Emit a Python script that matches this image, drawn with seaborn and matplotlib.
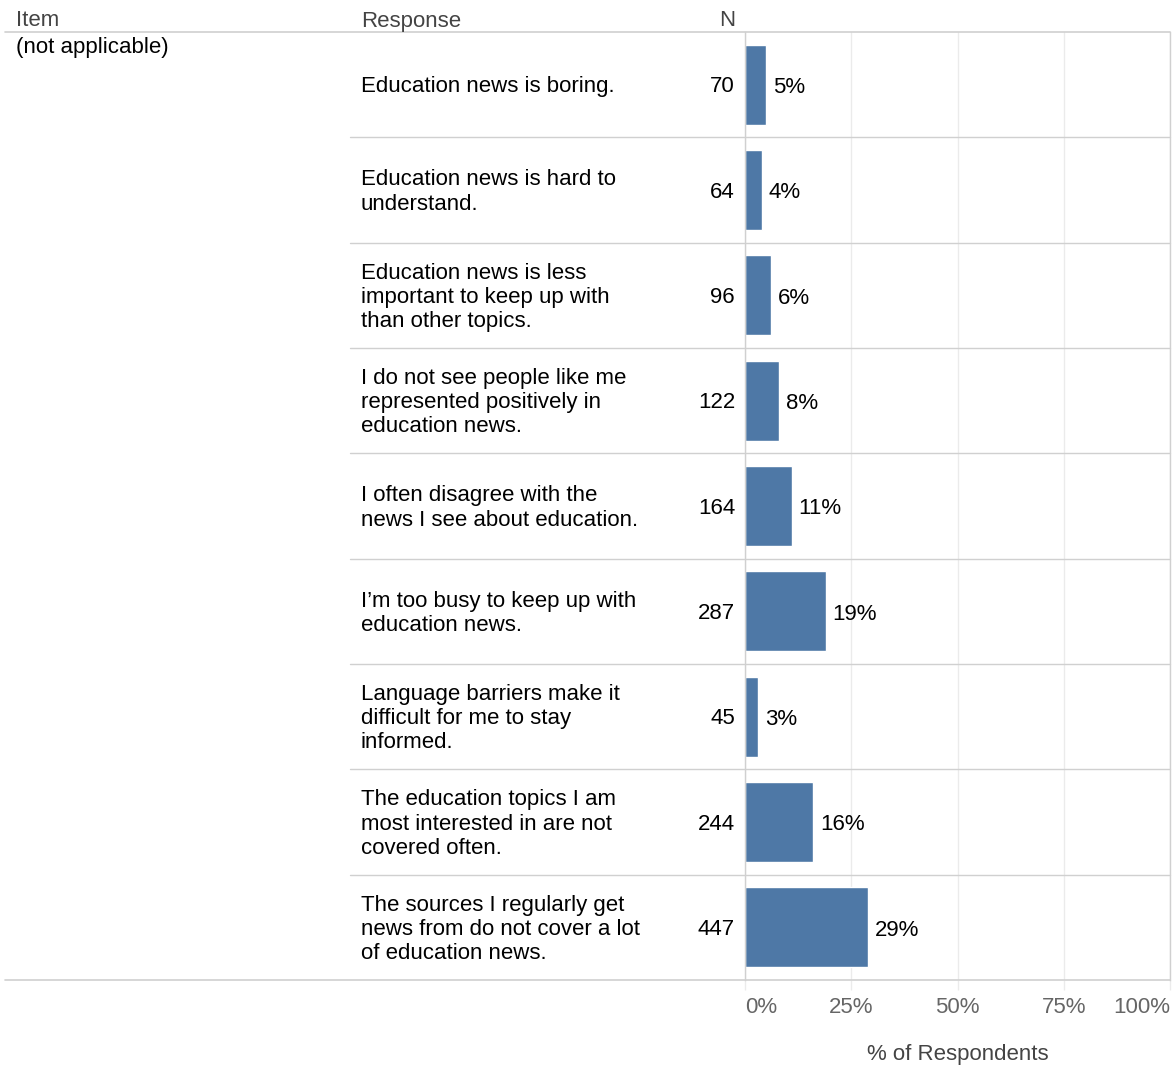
import matplotlib
matplotlib.use("Agg")
import matplotlib.pyplot as plt
import matplotlib.transforms as mtransforms
import pandas as pd
import seaborn as sns

# Survey responses: reasons for not keeping up with education news
responses = [
    "Education news is boring.",
    "Education news is hard to\nunderstand.",
    "Education news is less\nimportant to keep up with\nthan other topics.",
    "I do not see people like me\nrepresented positively in\neducation news.",
    "I often disagree with the\nnews I see about education.",
    "I\u2019m too busy to keep up with\neducation news.",
    "Language barriers make it\ndifficult for me to stay\ninformed.",
    "The education topics I am\nmost interested in are not\ncovered often.",
    "The sources I regularly get\nnews from do not cover a lot\nof education news.",
]
counts = [70, 64, 96, 122, 164, 287, 45, 244, 447]
percents = [5, 4, 6, 8, 11, 19, 3, 16, 29]
item_label = "(not applicable)"
tick_values = [0, 25, 50, 75, 100]
tick_labels = ["0%", "25%", "50%", "75%", "100%"]

df = pd.DataFrame({"Response": responses, "N": counts, "Percent": percents})

sns.set_theme(style="white")
plt.rcParams["font.family"] = ["Liberation Sans", "DejaVu Sans"]

W, H = 1173, 1066
fig = plt.figure(figsize=(W / 100, H / 100), dpi=100)

def fx(px):
    return px / W

def fy(py):
    return 1 - py / H

ax_left, ax_right = 745, 1170
ax_top, ax_bottom = 32, 980
ax = fig.add_axes([fx(ax_left), fy(ax_bottom), fx(ax_right - ax_left), (ax_bottom - ax_top) / H])

bar_color = "#4e78a6"
line_color = "#d0d0d0"
grid_color = "#ebebeb"
fs = 16

sns.barplot(data=df, x="Percent", y="Response", orient="h", color=bar_color,
            width=0.76, saturation=1, ax=ax)
ax.set_xlim(0, 100)
ax.set_ylim(len(responses) - 0.5, -0.5)

# Grid and frame
ax.set_xticks(tick_values)
ax.xaxis.grid(True, color=grid_color, linewidth=1.0)
ax.set_axisbelow(True)
for side in ["top", "bottom"]:
    ax.spines[side].set_visible(False)
for side in ["left", "right"]:
    ax.spines[side].set_visible(True)
    ax.spines[side].set_color(line_color)
    ax.spines[side].set_linewidth(1.0)
ax.tick_params(axis="x", bottom=True, length=7, width=1.0, color=grid_color,
               pad=5, labelsize=fs, labelcolor="#666666")
ax.tick_params(axis="y", left=False, labelleft=False)
ax.set_xticklabels(tick_labels)
tls = ax.get_xticklabels()
tls[0].set_ha("left")
tls[-1].set_ha("right")
ax.set_ylabel("")
ax.set_xlabel("% of Respondents", fontsize=fs, color="#444444", labelpad=19)

# Value labels at the end of each bar
for i, p in enumerate(percents):
    ax.annotate(f"{p}%", xy=(p, i), xytext=(5, -2), textcoords="offset points",
                ha="left", va="center", fontsize=fs, color="black")

# Table columns to the left of the bars
blend = mtransforms.blended_transform_factory(fig.transFigure, ax.transData)
nudge = mtransforms.ScaledTranslation(0, -1.5 / 72, fig.dpi_scale_trans)
for i, (resp, n) in enumerate(zip(responses, counts)):
    ax.text(fx(361), i, resp, transform=blend + nudge, ha="left", va="center",
            fontsize=fs, color="black", linespacing=1.2)
    ax.text(fx(735), i, str(n), transform=blend + nudge, ha="right", va="center",
            fontsize=fs, color="black")

# Row separators
for k in range(1, len(responses)):
    ax.plot([fx(350), fx(ax_right)], [k - 0.5, k - 0.5], transform=blend,
            color=line_color, linewidth=1.0, clip_on=False)
# Header and footer rules
for yv in [-0.5, len(responses) - 0.5]:
    ax.plot([fx(5), fx(ax_right)], [yv, yv], transform=blend,
            color=line_color, linewidth=1.2, clip_on=False)

# Column headers
fig.text(fx(16), fy(21), "Item", ha="left", va="center", fontsize=fs, color="#444444")
fig.text(fx(361), fy(21), "Response", ha="left", va="center", fontsize=fs, color="#444444")
fig.text(fx(735), fy(21), "N", ha="right", va="center", fontsize=fs, color="#444444")
fig.text(fx(16), fy(37), item_label, ha="left", va="top", fontsize=fs, color="black")

fig.savefig("out.png", dpi=100)
